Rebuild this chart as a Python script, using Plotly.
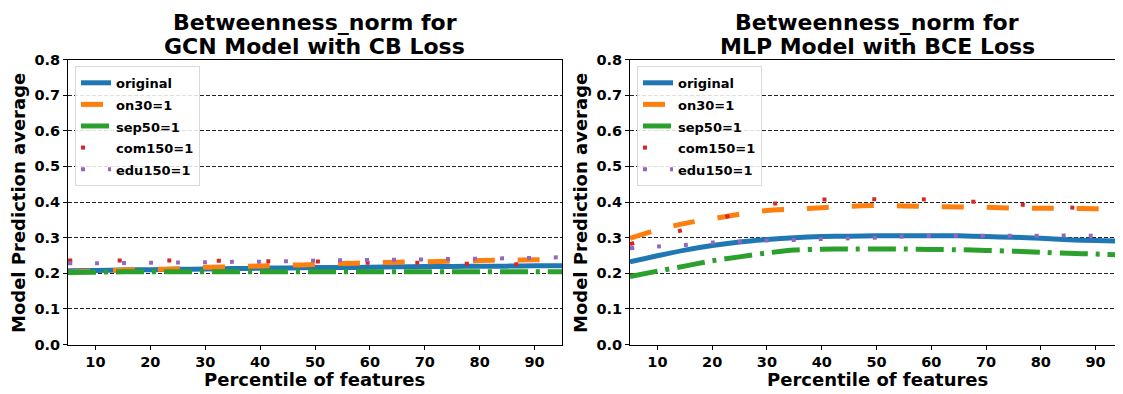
import plotly.graph_objects as go

# ---------------- data ----------------
percentiles = [5, 10, 15, 20, 25, 30, 35, 40, 45, 50, 55, 60, 65, 70, 75, 80, 85, 90, 95]
series_names = ["original", "on30=1", "sep50=1", "com150=1", "edu150=1"]

# GCN model with CB loss
gcn_original = [0.207, 0.208, 0.209, 0.210, 0.211, 0.212, 0.213, 0.214, 0.215, 0.216,
                0.216, 0.217, 0.218, 0.219, 0.219, 0.220, 0.220, 0.221, 0.221]
gcn_on30 = [0.203, 0.206, 0.209, 0.2105, 0.2125, 0.2165, 0.218, 0.2205, 0.2225, 0.2245,
            0.2275, 0.229, 0.231, 0.232, 0.2335, 0.2355, 0.237, 0.238, 0.239]
gcn_sep50 = [0.202, 0.203, 0.204, 0.204, 0.204, 0.204, 0.204, 0.204, 0.204, 0.204,
             0.204, 0.204, 0.204, 0.204, 0.204, 0.204, 0.204, 0.204, 0.204]
gcn_com150 = [0.2355, 0.2355, 0.2355, 0.2355, 0.2355, 0.2355, 0.235, 0.234, 0.2335, 0.233,
              0.231, 0.2295, 0.2295, 0.229, 0.2275, 0.2265, 0.2255, 0.2255, 0.225]
gcn_edu150 = [0.228, 0.228, 0.229, 0.2295, 0.230, 0.231, 0.232, 0.2325, 0.234, 0.2355,
              0.2365, 0.237, 0.238, 0.239, 0.240, 0.241, 0.242, 0.243, 0.245]

# MLP model with BCE loss
mlp_original = [0.232, 0.249, 0.265, 0.278, 0.288, 0.295, 0.300, 0.303, 0.304, 0.305,
                0.305, 0.305, 0.305, 0.303, 0.301, 0.298, 0.294, 0.292, 0.290]
mlp_on30 = [0.298, 0.322, 0.340, 0.353, 0.366, 0.376, 0.380, 0.384, 0.388, 0.390,
            0.389, 0.387, 0.386, 0.385, 0.383, 0.3825, 0.382, 0.381, 0.380]
mlp_sep50 = [0.191, 0.206, 0.220, 0.235, 0.246, 0.257, 0.265, 0.2675, 0.268, 0.268,
             0.268, 0.267, 0.266, 0.264, 0.262, 0.259, 0.256, 0.254, 0.251]
mlp_com150 = [0.282, 0.302, 0.323, 0.347, 0.369, 0.392, 0.402, 0.407, 0.408, 0.408,
              0.408, 0.407, 0.403, 0.399, 0.394, 0.389, 0.385, 0.380, 0.376]
mlp_edu150 = [0.270, 0.275, 0.2795, 0.286, 0.289, 0.292, 0.2935, 0.296, 0.298, 0.300,
              0.303, 0.305, 0.305, 0.3056, 0.3056, 0.3056, 0.3056, 0.305, 0.302]

x_ticks = [10, 20, 30, 40, 50, 60, 70, 80, 90]
y_ticks = [0.0, 0.1, 0.2, 0.3, 0.4, 0.5, 0.6, 0.7, 0.8]
title_line1 = "Betweenness_norm for"
title_line2 = ["GCN Model with CB Loss", "MLP Model with BCE Loss"]
x_label = "Percentile of features"
y_label = "Model Prediction average"

# ---------------- styles ----------------
colors = ["#1f77b4", "#ff7f0e", "#2ca02c", "#d62728", "#9467bd"]
dashes = ["solid", "22px,23px", "28px,8px,4px,8px", "4px,45.6px", "4px,23px"]
widths = [5, 5, 5, 4, 4]
FONT = "DejaVu Sans"

# page body adds an 8px margin; lay out in window pixels and convert
OFF = 8
W, H = 1123 - OFF, 394 - OFF


def px(wx):
    return (wx - OFF) / W


def py(wy):
    return (H - (wy - OFF)) / H


dom_left = [px(68), px(562)]
dom_right = [px(630), 1.0]
dom_y = [py(344.5), py(59.5)]

fig = go.Figure()

panels = [
    ("x", "y", "legend", [gcn_original, gcn_on30, gcn_sep50, gcn_com150, gcn_edu150]),
    ("x2", "y2", "legend2", [mlp_original, mlp_on30, mlp_sep50, mlp_com150, mlp_edu150]),
]
for xa, ya, leg, data in panels:
    for name, vals, c, d, w in zip(series_names, data, colors, dashes, widths):
        fig.add_trace(go.Scatter(
            x=percentiles, y=vals, mode="lines",
            name="<span style='font-size:13px'>" + name + "</span>",
            line=dict(color=c, dash=d, width=w, shape="spline", smoothing=0.6),
            xaxis=xa, yaxis=ya, legend=leg, hoverinfo="skip",
        ))

tickfont = dict(family=FONT, size=14.5, color="black", weight="bold")
common_x = dict(range=[5, 95], tickvals=x_ticks, ticks="outside", ticklen=4,
                tickcolor="black", showline=True, linecolor="black", linewidth=1,
                mirror=True, showgrid=False, zeroline=False, tickfont=tickfont,
                automargin=False)
common_y = dict(range=[0, 0.8], tickvals=y_ticks, tickformat=".1f", ticks="outside",
                ticklen=4, tickcolor="black", showline=True, linecolor="black",
                linewidth=1, mirror=True, showgrid=True, gridcolor="#222222",
                griddash="4px,2px", gridwidth=1, zeroline=False, tickfont=tickfont,
                automargin=False)

legend_style = dict(bgcolor="rgba(255,255,255,0.85)", bordercolor="#d9d9d9", borderwidth=1,
                    font=dict(family=FONT, size=14.3, color="black", weight="bold"),
                    xanchor="left", yanchor="top", tracegroupgap=0, itemwidth=30)

fig.update_layout(
    width=W, height=H, margin=dict(l=0, r=0, t=0, b=0, autoexpand=False),
    paper_bgcolor="white", plot_bgcolor="white",
    font=dict(family=FONT, color="black"),
    xaxis=dict(domain=dom_left, anchor="y", **common_x),
    yaxis=dict(domain=dom_y, anchor="x", **common_y),
    xaxis2=dict(domain=dom_right, anchor="y2", **common_x),
    yaxis2=dict(domain=dom_y, anchor="x2", **common_y),
    legend=dict(x=px(75), y=py(66), **legend_style),
    legend2=dict(x=px(637), y=py(66), **legend_style),
    showlegend=True,
)

ann = []
tfont = dict(family=FONT, size=22, color="black", weight="bold")
lfont = dict(family=FONT, size=18, color="black", weight="bold")
for cx, t2 in zip([315, 877], title_line2):
    ann.append(dict(text=title_line1, x=px(cx), y=py(8), xref="paper", yref="paper",
                    xanchor="center", yanchor="top", showarrow=False, font=tfont))
    ann.append(dict(text=t2, x=px(cx), y=py(46.5), xref="paper", yref="paper",
                    xanchor="center", yanchor="middle", showarrow=False, font=tfont))
    ann.append(dict(text=x_label, x=px(cx), y=py(379), xref="paper", yref="paper",
                    xanchor="center", yanchor="middle", showarrow=False, font=lfont))
for lx in [18, 580]:
    ann.append(dict(text=y_label, x=px(lx), y=py(203), xref="paper", yref="paper",
                    xanchor="center", yanchor="middle", textangle=-90, showarrow=False,
                    font=lfont))
fig.update_layout(annotations=ann)

fig.write_html("out.html")
